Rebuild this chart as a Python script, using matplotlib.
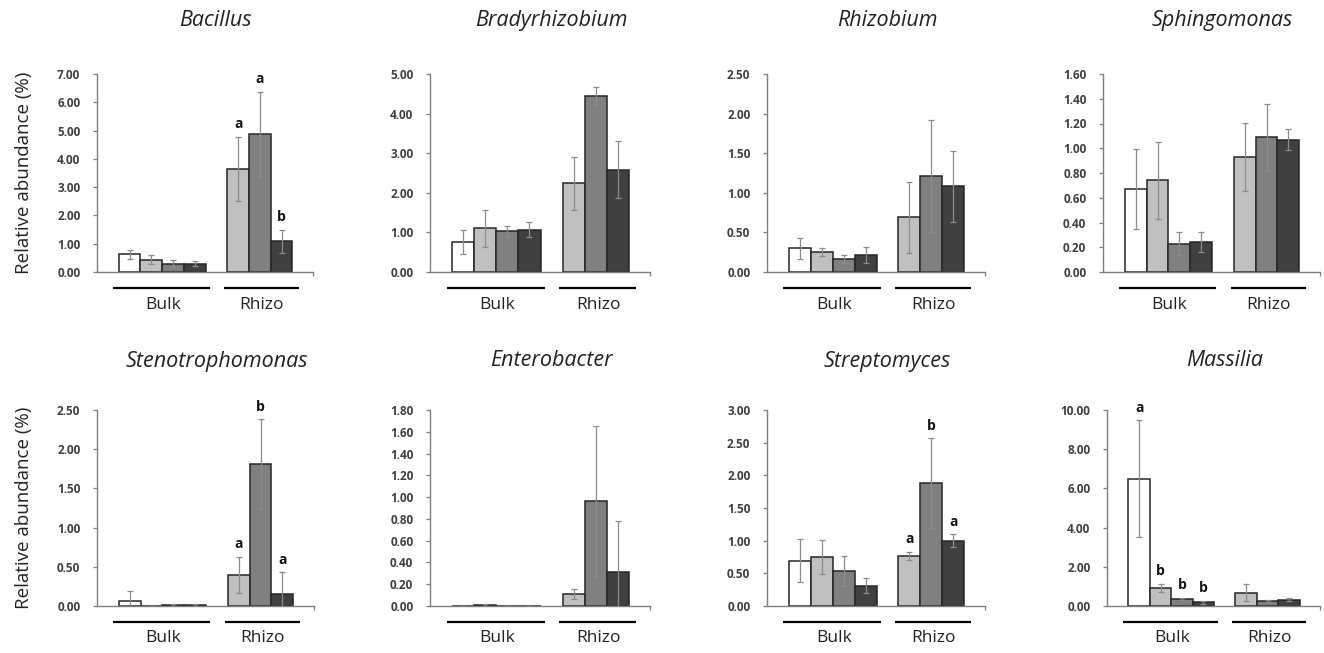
import numpy as np
import matplotlib
matplotlib.use("Agg")
import matplotlib.pyplot as plt

plt.rcParams['font.family'] = ['Open Sans', 'DejaVu Sans']

# one value per bar: Bulk x4 treatments, Rhizo x3 treatments
genera = ["Bacillus", "Bradyrhizobium", "Rhizobium", "Sphingomonas",
          "Stenotrophomonas", "Enterobacter", "Streptomyces", "Massilia"]

means = [
    [0.62, 0.44, 0.30, 0.29, 3.65, 4.87, 1.08],
    [0.76, 1.10, 1.03, 1.07, 2.24, 4.44, 2.58],
    [0.30, 0.25, 0.16, 0.21, 0.69, 1.21, 1.08],
    [0.67, 0.74, 0.23, 0.24, 0.93, 1.09, 1.07],
    [0.07, 0.00, 0.01, 0.01, 0.40, 1.81, 0.15],
    [0.00, 0.01, 0.00, 0.00, 0.11, 0.96, 0.31],
    [0.69, 0.75, 0.54, 0.31, 0.77, 1.88, 1.00],
    [6.50, 0.93, 0.37, 0.20, 0.68, 0.25, 0.32],
]
errs = [
    [0.17, 0.15, 0.12, 0.09, 1.13, 1.50, 0.42],
    [0.31, 0.47, 0.14, 0.19, 0.67, 0.22, 0.72],
    [0.13, 0.05, 0.05, 0.10, 0.45, 0.71, 0.45],
    [0.32, 0.31, 0.09, 0.08, 0.275, 0.27, 0.085],
    [0.12, 0.00, 0.01, 0.01, 0.23, 0.57, 0.28],
    [0.00, 0.01, 0.00, 0.00, 0.05, 0.69, 0.47],
    [0.33, 0.26, 0.23, 0.115, 0.06, 0.69, 0.10],
    [2.98, 0.20, 0.06, 0.08, 0.42, 0.05, 0.08],
]
letters = [
    ["", "", "", "", "a", "a", "b"],
    [""] * 7,
    [""] * 7,
    [""] * 7,
    ["", "", "", "", "a", "b", "a"],
    [""] * 7,
    ["", "", "", "", "a", "b", "a"],
    ["a", "b", "b", "b", "", "", ""],
]
ymax = [7.0, 5.0, 2.5, 1.6, 2.5, 1.8, 3.0, 10.0]
ystep = [1.0, 1.0, 0.5, 0.2, 0.5, 0.2, 0.5, 2.0]

groups = ["Bulk", "Rhizo"]
xpos = [1.5, 2.5, 3.5, 4.5, 6.5, 7.5, 8.5]
colors = ["white", "#c0c0c0", "#808080", "#404040", "#c0c0c0", "#808080", "#404040"]

W, H = 1324, 653
fig = plt.figure(figsize=(W / 100, H / 100), dpi=100)

lefts = [[97, 430, 767, 1103], [97, 430, 767, 1107]]
widths = [[216, 220, 218, 217], [217, 220, 218, 213]]
tops = [74, 410]
heights = [198, 196]

axgray = "#7f7f7f"
for i, name in enumerate(genera):
    r, c = divmod(i, 4)
    ax = fig.add_axes([lefts[r][c] / W, 1 - (tops[r] + heights[r]) / H,
                       widths[r][c] / W, heights[r] / H])
    m = np.array(means[i])
    e = np.array(errs[i])
    ax.bar(xpos, m, width=1.0, color=colors, edgecolor="#262626", linewidth=1.1, zorder=2)
    ax.errorbar(xpos, m, yerr=e, fmt="none", ecolor="#8c8c8c", elinewidth=0.9,
                capsize=2, capthick=0.9, zorder=3)
    for x, y, er, lab in zip(xpos, m, e, letters[i]):
        if lab:
            ax.annotate(lab, (x, y + er), xytext=(0, 9), textcoords="offset points",
                        ha="center", va="center", fontsize=10, fontweight="bold",
                        color="#111111")
    ax.set_xlim(0, 9.95)
    ax.set_ylim(0, ymax[i])
    ax.set_yticks(np.arange(0, ymax[i] + ystep[i] / 2, ystep[i]))
    ax.set_yticklabels([f"{v:.2f}" for v in ax.get_yticks()], fontsize=8.5,
                       color="#404040", fontweight="bold")
    ax.set_xticks([9.95])
    ax.set_xticklabels([""])
    ax.tick_params(axis="y", direction="out", length=3, width=0.9, color=axgray, pad=9)
    ax.tick_params(axis="x", direction="out", length=3, width=0.9, color=axgray)
    for s in ["top", "right"]:
        ax.spines[s].set_visible(False)
    for s in ["left", "bottom"]:
        ax.spines[s].set_color(axgray)
        ax.spines[s].set_linewidth(1.0)

    # group underlines and labels
    ax.plot([0.75, 5.2], [-0.08, -0.08], transform=ax.get_xaxis_transform(),
            color="black", lw=1.6, clip_on=False, solid_capstyle="butt")
    ax.plot([5.85, 9.3], [-0.08, -0.08], transform=ax.get_xaxis_transform(),
            color="black", lw=1.6, clip_on=False, solid_capstyle="butt")
    ax.text(3.05, -0.165, groups[0], transform=ax.get_xaxis_transform(),
            ha="center", va="center", fontsize=12.5, color="#222222")
    ax.text(7.6, -0.165, groups[1], transform=ax.get_xaxis_transform(),
            ha="center", va="center", fontsize=12.5, color="#222222")

    ax.text(0.55, 1.27 if r == 0 else 1.25, name, transform=ax.transAxes,
            ha="center", va="center", fontsize=15.5, style="italic", color="#222222")
    if c == 0:
        ax.set_ylabel("Relative abundance (%)", fontsize=13.5, color="#222222", labelpad=17)

fig.savefig("out.png", dpi=100)
